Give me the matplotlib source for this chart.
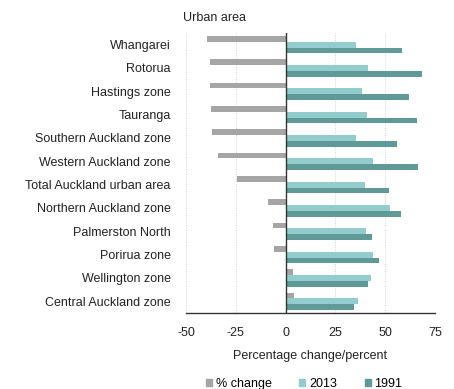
import matplotlib
matplotlib.use("Agg")
import matplotlib.pyplot as plt
import numpy as np
from matplotlib.patches import Patch

plt.rcParams['font.family'] = ['Liberation Sans', 'DejaVu Sans']

# Data
areas = ["Whangarei", "Rotorua", "Hastings zone", "Tauranga",
         "Southern Auckland zone", "Western Auckland zone",
         "Total Auckland urban area", "Northern Auckland zone",
         "Palmerston North", "Porirua zone", "Wellington zone",
         "Central Auckland zone"]
pct_change = [-39.5, -38.2, -38.2, -37.5, -37.0, -33.7, -24.5, -9.0, -6.5, -5.8, 3.5, 4.0]
vals_2013 = [35.2, 41.3, 38.3, 40.8, 35.2, 43.8, 39.7, 52.5, 40.2, 43.8, 42.7, 36.3]
vals_1991 = [58.3, 68.3, 62.0, 65.8, 55.8, 66.3, 52.0, 57.8, 43.3, 47.0, 41.3, 34.5]
xticks = [-50, -25, 0, 25, 50, 75]

c_change = "#a5a5a5"
c_2013 = "#93cccc"
c_1991 = "#5f9a99"
fs = 9

fig = plt.figure(figsize=(4.54, 3.89), dpi=100)
ax = fig.add_axes([0.4097, 0.1954, 0.5485, 0.7198])

y = np.arange(len(areas))
h = 0.25
ax.barh(y - h, pct_change, height=h, color=c_change, label="% change")
ax.barh(y, vals_2013, height=h, color=c_2013, label="2013")
ax.barh(y + h, vals_1991, height=h, color=c_1991, label="1991")

ax.set_xlim(-50, 75)
ax.set_ylim(len(areas) - 0.5, -0.5)
ax.set_xticks(xticks)
ax.set_xticklabels([str(t) for t in xticks], fontsize=fs, color="#222222")
ax.set_yticks(y)
ax.set_yticklabels(areas, fontsize=fs, color="#222222")
ax.tick_params(axis="x", length=0, pad=10)
ax.tick_params(axis="y", length=0, pad=11)

for t in xticks:
    if t != 0:
        ax.axvline(t, color="#d0d0d0", lw=0.7, ls=(0, (1, 1.5)), zorder=0)
ax.axvline(0, color="#333333", lw=1.0, zorder=3)

for s in ["top", "right", "left"]:
    ax.spines[s].set_visible(False)
ax.spines["bottom"].set_color("#333333")
ax.spines["bottom"].set_linewidth(1.0)

ax.set_xlabel("Percentage change/percent", fontsize=fs, color="#222222", labelpad=8)
fig.text(0.403, 0.953, "Urban area", fontsize=fs, color="#222222", ha="left", va="center")

handles = [Patch(color=c_change), Patch(color=c_2013), Patch(color=c_1991)]
fig.legend(handles, ["% change", "2013", "1991"], loc="center", bbox_to_anchor=(0.67, 0.014),
           ncol=3, frameon=False, fontsize=fs, handlelength=0.5, handleheight=0.5,
           handletextpad=0.3, columnspacing=2.2)

fig.savefig("out.png", dpi=100)
